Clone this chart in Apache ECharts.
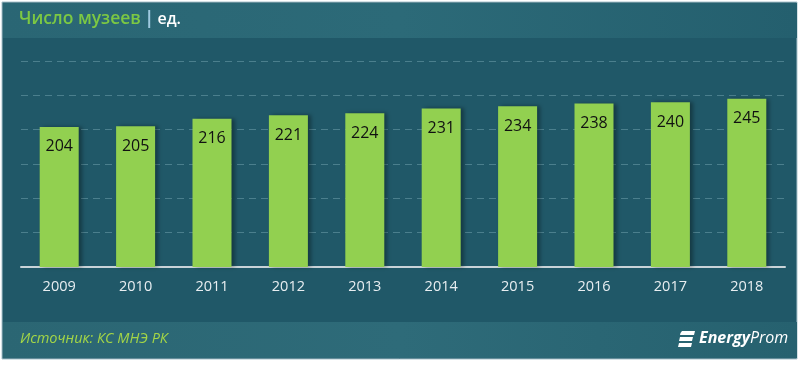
<!DOCTYPE html>
<html>
<head>
<meta charset="utf-8">
<script src="https://cdn.jsdelivr.net/npm/echarts@6/dist/echarts.min.js"></script>
<style>
html,body{margin:0;padding:0;background:#ffffff;}
#chart{width:800px;height:366px;}
</style>
</head>
<body>
<div id="chart"></div>
<script>
const categories = ['2009','2010','2011','2012','2013','2014','2015','2016','2017','2018'];
const museums = [204, 205, 216, 221, 224, 231, 234, 238, 240, 245];
const titleMain = 'Число музеев';
const titleUnit = 'ед.';
const sourceText = 'Источник: КС МНЭ РК';

const chart = echarts.init(document.getElementById('chart'), null, {renderer: 'canvas'});
const option = {
  backgroundColor: '#ffffff',
  animation: false,
  graphic: [
    {type: 'rect', z: -10, shape: {x: 2, y: 2, width: 795, height: 357},
     style: {fill: '#205868', stroke: '#a9c3cc', lineWidth: 1}},
    {type: 'rect', z: -9, shape: {x: 3, y: 3, width: 794, height: 35},
     style: {fill: new echarts.graphic.LinearGradient(0, 0, 1, 0, [
       {offset: 0, color: '#2a6674'}, {offset: 0.5, color: '#2c6a78'}, {offset: 1, color: '#245f6e'}])}},
    {type: 'rect', z: -9, shape: {x: 3, y: 322, width: 794, height: 36},
     style: {fill: new echarts.graphic.LinearGradient(0, 0, 1, 0, [
       {offset: 0, color: '#2b6673'}, {offset: 0.5, color: '#2e6b79'}, {offset: 1, color: '#26616f'}])}},
    {type: 'text', left: 19, top: 10, z: 5,
     style: {text: '{g|' + titleMain + '} {s|\u007c} {w|' + titleUnit + '}',
       rich: {
         g: {fill: '#7cc843', fontSize: 17.5, fontWeight: 600, fontFamily: 'Open Sans'},
         s: {fill: '#9fc9e0', fontSize: 18, fontWeight: 'bold', fontFamily: 'Open Sans'},
         w: {fill: '#ffffff', fontSize: 16, fontWeight: 600, fontFamily: 'Open Sans'}
       }}},
    {type: 'text', left: 20, top: 331, z: 5,
     style: {text: sourceText, fill: '#a4d646', fontSize: 14.5, fontStyle: 'italic', fontFamily: 'Open Sans'}},
    {type: 'group', left: 678, top: 330, z: 5, children: [
      {type: 'polygon', shape: {points: [[4,0],[17,0],[16,4],[2,4],[2.5,2]]}, style: {fill: '#ffffff'}},
      {type: 'polygon', shape: {points: [[2,6],[15,6],[14,10],[1,10]]}, style: {fill: '#ffffff'}},
      {type: 'polygon', shape: {points: [[1,12],[14,12],[13,16],[0,16]]}, style: {fill: '#ffffff'}},
      {type: 'text', x: 21, y: -1, style: {text: '{b|Energy}{r|Prom}',
        rich: {
          b: {fill: '#ffffff', fontSize: 16, fontWeight: 'bold', fontStyle: 'italic', fontFamily: 'Open Sans'},
          r: {fill: '#ffffff', fontSize: 16, fontStyle: 'italic', fontFamily: 'Open Sans'}
        }}}
    ]}
  ],
  grid: {left: 21, right: 15, top: 61, bottom: 99, containLabel: false},
  xAxis: {
    type: 'category',
    data: categories,
    axisLine: {lineStyle: {color: '#c9d3d8', width: 2}},
    axisTick: {show: false},
    axisLabel: {color: '#e8eef1', fontSize: 14.5, fontFamily: 'Open Sans', margin: 12}
  },
  yAxis: {
    type: 'value',
    min: 0, max: 300, interval: 50,
    axisLabel: {show: false},
    axisLine: {show: false},
    axisTick: {show: false},
    splitLine: {lineStyle: {color: '#4b7f8d', type: [7, 5], width: 1}}
  },
  series: [{
    type: 'bar',
    data: museums,
    barWidth: 39,
    itemStyle: {color: '#92d050', shadowColor: 'rgba(0,0,0,0.35)', shadowBlur: 4, shadowOffsetX: 3, shadowOffsetY: 0},
    label: {show: true, position: 'insideTop', distance: 12, color: '#111111', fontSize: 16, fontFamily: 'Open Sans'}
  }]
};
chart.setOption(option);
</script>
</body>
</html>
